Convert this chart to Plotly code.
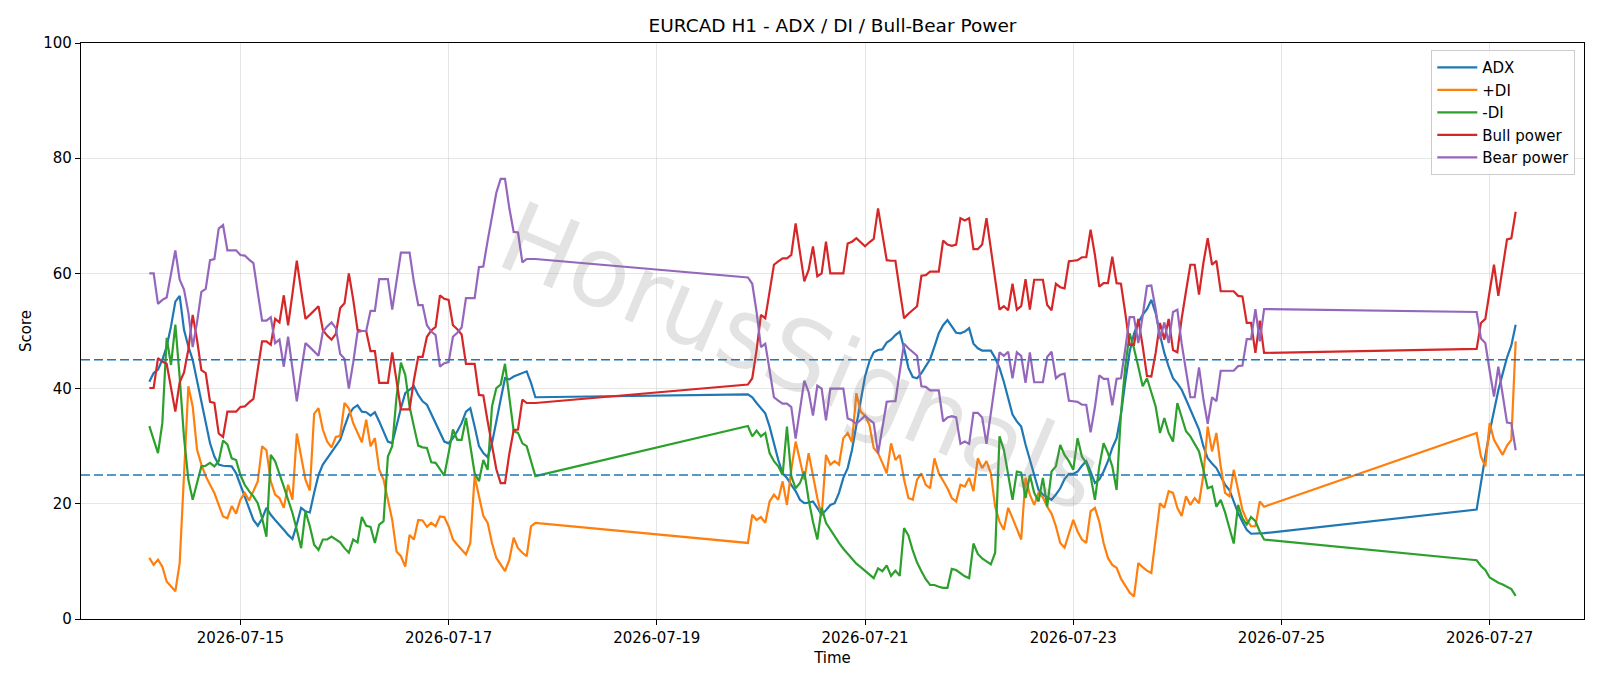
import pandas as pd
import plotly.graph_objects as go

# ---- time axis: three hourly segments (weekend gaps in between) ----
seg_starts = ["2026-07-14 03:00", "2026-07-19 21:00", "2026-07-26 21:00"]
seg_lengths = [90, 120, 10]

# ---- series values ----
adx_s1 = [41.2, 42.7, 43.3, 45.0, 47.3, 50.8, 55.1, 56.1, 50.2, 47.3,
          45.0, 41.5, 38.1, 34.0, 30.5, 28.2, 26.8, 26.6, 26.6, 26.5,
          25.3, 23.3, 21.3, 19.5, 17.2, 16.2, 17.4, 19.3, 18.1, 17.2,
          16.4, 15.5, 14.6, 13.9, 16.4, 19.3, 18.7, 18.5, 21.9, 25.0,
          26.8, 27.9, 28.8, 30.0, 31.1, 33.4, 35.5, 36.6, 37.1, 36.0,
          35.9, 35.3, 35.9, 34.3, 32.6, 30.8, 30.5, 33.7, 36.6, 39.2,
          39.8, 40.4, 38.9, 37.8, 37.2, 35.6, 34.0, 32.6, 30.8, 30.5,
          31.4, 32.6, 34.0, 36.0, 36.6, 33.4, 30.0, 28.8, 28.1, 30.5,
          34.0, 38.1, 41.8, 41.6, 42.1, 42.4, 42.7, 43.0, 41.0, 38.5]
adx_s2 = [39.0, 38.5, 37.5, 36.6, 35.7, 33.4, 30.5, 27.6, 25.3, 24.5,
          23.3, 22.2, 20.7, 20.1, 20.2, 20.4, 19.3, 18.1, 18.9, 19.8,
          20.1, 21.9, 24.5, 26.2, 29.4, 33.7, 38.1, 42.1, 44.7, 46.3,
          46.7, 46.8, 48.0, 48.5, 49.3, 49.9, 47.0, 43.6, 42.0, 41.8,
          42.7, 44.0, 45.1, 47.3, 49.6, 51.0, 51.9, 50.8, 49.7, 49.6,
          49.9, 50.5, 47.8, 47.0, 46.6, 46.6, 46.6, 45.3, 43.6, 41.2,
          38.1, 35.5, 34.3, 33.4, 30.3, 27.6, 25.0, 22.4, 21.6, 21.2,
          20.7, 21.6, 22.7, 24.3, 25.2, 25.2, 25.6, 26.6, 27.4, 25.6,
          23.6, 24.2, 25.6, 27.4, 29.7, 31.4, 35.5, 41.2, 46.4, 49.5,
          51.5, 52.8, 53.8, 55.4, 53.1, 49.3, 46.2, 43.8, 41.8, 40.9,
          39.8, 38.1, 36.3, 34.6, 32.9, 30.0, 27.9, 27.0, 26.2, 24.8,
          23.3, 22.4, 20.4, 18.4, 16.9, 15.5, 14.8, 14.8, 14.9, 14.9]
adx_s3 = [19.0, 23.8, 28.3, 32.5, 36.4, 39.7, 42.6, 45.4, 47.5, 51.1]

pdi_s1 = [10.6, 9.4, 10.3, 9.1, 6.5, 5.7, 4.8, 9.7, 25.3, 40.4,
          36.9, 29.4, 26.8, 24.8, 23.3, 21.9, 19.8, 17.8, 17.5, 19.6,
          18.3, 20.7, 21.9, 20.6, 22.2, 23.9, 30.0, 29.3, 23.9, 21.6,
          21.0, 19.3, 23.3, 20.7, 32.2, 27.9, 24.2, 22.3, 35.6, 36.6,
          32.9, 30.8, 29.8, 31.6, 31.8, 37.5, 36.6, 34.0, 32.3, 30.7,
          34.6, 30.0, 31.4, 25.9, 24.2, 20.7, 17.2, 11.7, 10.9, 9.1,
          14.6, 13.8, 17.2, 17.1, 16.0, 16.7, 16.1, 17.8, 17.7, 16.1,
          13.8, 12.9, 12.0, 11.2, 13.2, 24.8, 21.3, 17.9, 16.7, 13.2,
          10.6, 9.4, 8.3, 10.3, 14.1, 12.3, 11.5, 10.9, 16.1, 16.7]
pdi_s2 = [13.2, 18.1, 17.2, 17.7, 16.7, 20.4, 21.6, 20.7, 23.9, 19.8,
          25.9, 30.8, 27.6, 24.2, 28.8, 24.8, 21.0, 17.9, 28.5, 26.8,
          27.4, 26.8, 31.4, 32.3, 30.7, 39.2, 36.0, 35.3, 33.7, 29.7,
          28.8, 27.1, 25.3, 30.5, 27.6, 28.5, 24.2, 21.0, 20.7, 24.2,
          25.3, 23.3, 22.7, 27.9, 25.3, 24.0, 22.7, 21.0, 20.4, 23.3,
          23.0, 24.5, 22.2, 27.9, 26.2, 27.4, 25.3, 19.5, 16.9, 15.5,
          19.3, 17.5, 15.8, 13.8, 24.5, 21.6, 19.8, 21.9, 21.1, 19.5,
          18.3, 16.1, 13.2, 12.4, 14.8, 17.2, 15.2, 13.8, 13.2, 18.7,
          19.3, 16.9, 13.2, 10.6, 9.4, 8.9, 7.0, 5.7, 4.6, 3.9,
          9.7, 9.0, 8.4, 8.0, 13.8, 20.1, 19.3, 22.2, 21.9, 19.3,
          17.9, 21.3, 19.8, 21.0, 20.1, 25.0, 33.4, 29.1, 32.3, 26.5,
          21.9, 21.3, 25.9, 22.4, 19.0, 17.2, 16.1, 16.1, 20.4, 19.5]
pdi_s3 = [32.3, 28.2, 26.5, 34.0, 31.1, 29.8, 28.5, 30.1, 31.1, 48.2]

mdi_s1 = [33.5, 31.1, 28.8, 34.0, 48.8, 44.1, 51.1, 42.0, 31.5, 24.2,
          20.7, 23.6, 26.5, 26.6, 27.1, 26.5, 27.4, 31.0, 30.3, 27.9,
          27.6, 25.0, 23.3, 22.2, 21.3, 20.1, 17.5, 14.3, 28.5, 27.4,
          25.0, 23.0, 20.7, 18.4, 15.5, 12.3, 18.7, 16.1, 12.9, 12.0,
          13.8, 13.8, 14.3, 13.8, 13.3, 12.3, 11.5, 13.8, 13.3, 17.7,
          16.2, 16.0, 13.2, 16.4, 17.0, 28.2, 30.0, 38.6, 44.5, 42.4,
          36.9, 33.4, 30.1, 29.8, 29.7, 27.2, 27.1, 26.0, 24.9, 28.8,
          32.9, 31.1, 31.1, 34.9, 30.0, 25.3, 23.9, 27.6, 25.9, 36.9,
          40.1, 40.7, 44.3, 38.1, 32.6, 32.3, 30.5, 30.0, 27.4, 24.8]
mdi_s2 = [33.5, 31.7, 32.7, 31.7, 32.3, 28.8, 27.4, 26.5, 25.0, 33.4,
          24.8, 22.7, 23.6, 25.6, 20.7, 16.9, 13.8, 19.3, 16.7, 15.5,
          14.3, 13.2, 12.2, 11.3, 10.5, 9.6, 9.0, 8.4, 7.7, 7.1,
          8.8, 8.3, 9.3, 7.5, 8.4, 7.5, 15.8, 14.5, 11.9, 9.8,
          8.3, 6.9, 5.9, 5.9, 5.6, 5.4, 5.4, 8.7, 8.5, 7.9,
          7.4, 7.1, 13.1, 11.3, 10.5, 10.0, 9.5, 11.5, 31.7, 29.4,
          24.8, 20.7, 25.6, 25.4, 21.0, 25.0, 21.9, 20.4, 24.5, 19.5,
          25.6, 26.5, 30.2, 28.5, 27.4, 25.9, 31.4, 28.2, 27.1, 24.8,
          20.7, 26.5, 30.5, 28.8, 26.5, 22.4, 35.7, 43.8, 49.6, 47.0,
          43.8, 40.4, 41.8, 39.5, 36.9, 32.3, 34.9, 32.3, 30.8, 37.5,
          34.9, 32.6, 31.7, 30.4, 29.1, 25.9, 22.7, 23.0, 19.5, 20.7,
          18.5, 15.8, 13.1, 19.8, 17.5, 16.4, 17.7, 17.0, 15.2, 13.8]
mdi_s3 = [10.2, 9.2, 8.5, 7.2, 6.7, 6.3, 6.0, 5.6, 5.2, 4.0]

bull_s1 = [40.1, 40.1, 45.3, 44.7, 44.3, 40.3, 36.0, 41.1, 42.8, 46.8,
           52.8, 48.5, 43.2, 42.7, 37.7, 37.5, 32.2, 31.6, 36.0, 36.0,
           36.0, 36.8, 36.9, 37.6, 38.2, 43.3, 48.2, 48.2, 47.6, 52.1,
           51.5, 56.2, 51.0, 56.5, 62.2, 57.0, 52.1, 52.8, 53.6, 54.3,
           50.2, 49.2, 48.5, 49.5, 54.0, 54.8, 60.0, 55.5, 50.2, 50.0,
           50.0, 46.5, 46.5, 41.0, 41.0, 41.0, 46.3, 41.6, 36.4, 36.4,
           36.4, 41.5, 45.5, 45.5, 49.0, 50.1, 50.7, 56.2, 55.6, 55.4,
           51.0, 50.3, 49.4, 44.3, 44.3, 44.3, 38.9, 38.8, 34.3, 30.3,
           26.0, 23.6, 23.6, 28.7, 32.8, 32.9, 38.1, 37.5, 37.5, 37.5]
bull_s2 = [40.7, 41.8, 46.7, 52.8, 52.2, 56.8, 61.5, 62.1, 62.6, 62.6,
           63.2, 68.7, 63.8, 58.6, 60.6, 64.7, 59.5, 60.0, 65.5, 60.0,
           60.0, 60.0, 60.0, 65.2, 65.5, 66.1, 65.4, 64.7, 65.4, 66.0,
           71.3, 66.7, 62.3, 62.2, 62.2, 57.1, 52.2, 53.0, 53.7, 54.3,
           59.6, 59.7, 60.3, 60.3, 60.3, 65.7, 65.0, 64.8, 65.0, 69.6,
           69.2, 69.6, 64.2, 64.2, 65.0, 69.6, 64.5, 59.5, 53.7, 54.3,
           53.6, 58.2, 53.7, 54.3, 59.0, 53.7, 58.9, 58.9, 58.9, 54.5,
           53.6, 58.2, 57.6, 57.4, 62.1, 62.2, 62.3, 62.8, 62.8, 67.6,
           63.2, 57.7, 58.3, 58.3, 62.9, 58.3, 58.2, 53.1, 47.6, 47.6,
           52.1, 47.4, 42.2, 42.1, 46.2, 51.4, 48.5, 52.1, 46.7, 46.3,
           52.2, 56.9, 61.5, 61.5, 56.3, 61.8, 66.1, 61.5, 62.2, 56.9,
           56.9, 56.9, 56.9, 56.1, 56.0, 51.4, 51.4, 46.2, 51.8, 46.2]
bull_s3 = [46.9, 51.4, 52.1, 56.9, 61.5, 56.1, 61.2, 65.9, 66.1, 70.7]

bear_s1 = [60.0, 60.0, 54.7, 55.4, 55.8, 59.8, 64.0, 58.9, 57.2, 53.2,
           47.2, 51.5, 56.8, 57.3, 62.3, 62.5, 67.8, 68.4, 64.0, 64.0,
           64.0, 63.2, 63.1, 62.4, 61.8, 56.7, 51.8, 51.8, 52.4, 47.9,
           48.5, 43.8, 49.0, 43.5, 37.8, 43.0, 47.9, 47.2, 46.4, 45.7,
           49.8, 50.8, 51.5, 50.5, 46.0, 45.2, 40.0, 44.5, 49.8, 50.0,
           50.0, 53.5, 53.5, 59.0, 59.0, 59.0, 53.7, 58.4, 63.6, 63.6,
           63.6, 58.5, 54.5, 54.5, 51.0, 49.9, 49.3, 43.8, 44.4, 44.6,
           49.0, 49.7, 50.6, 55.7, 55.7, 55.7, 61.1, 61.2, 65.7, 69.7,
           74.0, 76.4, 76.4, 71.3, 67.2, 67.1, 61.9, 62.5, 62.5, 62.5]
bear_s2 = [59.3, 58.2, 53.3, 47.2, 47.8, 43.2, 38.5, 37.9, 37.4, 37.4,
           36.8, 31.3, 36.2, 41.4, 39.4, 35.3, 40.5, 40.0, 34.5, 40.0,
           40.0, 40.0, 40.0, 34.8, 34.5, 33.9, 34.6, 35.3, 34.6, 34.0,
           28.7, 33.3, 37.7, 37.8, 37.8, 42.9, 47.8, 47.0, 46.3, 45.7,
           40.4, 40.3, 39.7, 39.7, 39.7, 34.3, 35.0, 35.2, 35.0, 30.4,
           30.8, 30.4, 35.8, 35.8, 35.0, 30.4, 35.5, 40.5, 46.3, 45.7,
           46.4, 41.8, 46.3, 45.7, 41.0, 46.3, 41.1, 41.1, 41.1, 45.5,
           46.4, 41.8, 42.4, 42.6, 37.9, 37.8, 37.7, 37.2, 37.2, 32.4,
           36.8, 42.3, 41.7, 41.7, 37.1, 41.7, 41.8, 46.9, 52.4, 52.4,
           47.9, 52.6, 57.8, 57.9, 53.8, 48.6, 51.5, 47.9, 53.3, 53.7,
           47.8, 43.1, 38.5, 38.5, 43.7, 38.2, 33.9, 38.5, 37.8, 43.1,
           43.1, 43.1, 43.1, 43.9, 44.0, 48.6, 48.6, 53.8, 48.2, 53.8]
bear_s3 = [53.3, 48.7, 47.9, 43.1, 38.6, 43.8, 38.9, 34.1, 34.0, 29.3]

levels = [25, 45]
tick_dates = ["2026-07-15", "2026-07-17", "2026-07-19", "2026-07-21",
              "2026-07-23", "2026-07-25", "2026-07-27"]
y_ticks = [0, 20, 40, 60, 80, 100]

# ---- build x ----
times = []
for s, n in zip(seg_starts, seg_lengths):
    times += list(pd.date_range(s, periods=n, freq="h"))

series = [
    ("ADX", adx_s1 + adx_s2 + adx_s3, "#1f77b4"),
    ("+DI", pdi_s1 + pdi_s2 + pdi_s3, "#ff7f0e"),
    ("-DI", mdi_s1 + mdi_s2 + mdi_s3, "#2ca02c"),
    ("Bull power", bull_s1 + bull_s2 + bull_s3, "#d62728"),
    ("Bear power", bear_s1 + bear_s2 + bear_s3, "#9467bd"),
]

fig = go.Figure()
for name, vals, col in series:
    assert len(vals) == len(times), (name, len(vals), len(times))
    fig.add_trace(go.Scatter(x=times, y=vals, mode="lines", name=name,
                             line=dict(color=col, width=2.2)))

for lv in levels:
    fig.add_hline(y=lv, line=dict(color="#1f77b4", width=1.6, dash="9px,4px"))

FONT = "DejaVu Sans"
grid = "rgba(176,176,176,0.32)"

fig.update_layout(
    width=1600, height=686, autosize=False,
    margin=dict(l=81, r=16, t=43, b=67),
    paper_bgcolor="white", plot_bgcolor="white",
    font=dict(family=FONT, size=15, color="black"),
    title=dict(text="EURCAD H1 - ADX / DI / Bull-Bear Power",
               x=0.5, xref="paper", xanchor="center",
               y=1 - 25.5 / 686, yref="container", yanchor="middle",
               font=dict(family=FONT, size=18.5, color="black")),
    showlegend=True,
    legend=dict(x=0.9942, y=0.9877, xanchor="right", yanchor="top",
                bgcolor="rgba(255,255,255,0.8)", bordercolor="#cccccc",
                borderwidth=1, itemwidth=40,
                font=dict(family=FONT, size=15)),
    xaxis=dict(type="date",
               range=["2026-07-13 11:15", "2026-07-27 21:45"],
               tickvals=tick_dates, ticktext=tick_dates,
               showgrid=True, gridcolor=grid, gridwidth=1, zeroline=False,
               showline=True, linecolor="black", linewidth=1.2, mirror=True,
               ticks="outside", ticklen=5, tickwidth=1.2, tickcolor="black",
               tickfont=dict(family=FONT, size=15),
               title=dict(text="Time", standoff=6,
                          font=dict(family=FONT, size=15))),
    yaxis=dict(range=[0, 100], tickvals=y_ticks,
               showgrid=True, gridcolor=grid, gridwidth=1, zeroline=False,
               showline=True, linecolor="black", linewidth=1.2, mirror=True,
               ticks="outside", ticklen=5, tickwidth=1.2, tickcolor="black",
               tickfont=dict(family=FONT, size=15),
               title=dict(text="Score", standoff=8,
                          font=dict(family=FONT, size=15))),
)

# watermark: light translucent text
fig.add_annotation(text="HorusSignals", xref="paper", yref="paper",
                   x=0.479, y=0.455, showarrow=False, textangle=23,
                   font=dict(family=FONT, size=98,
                             color="rgba(128,128,128,0.22)"))

fig.write_html("out.html")
